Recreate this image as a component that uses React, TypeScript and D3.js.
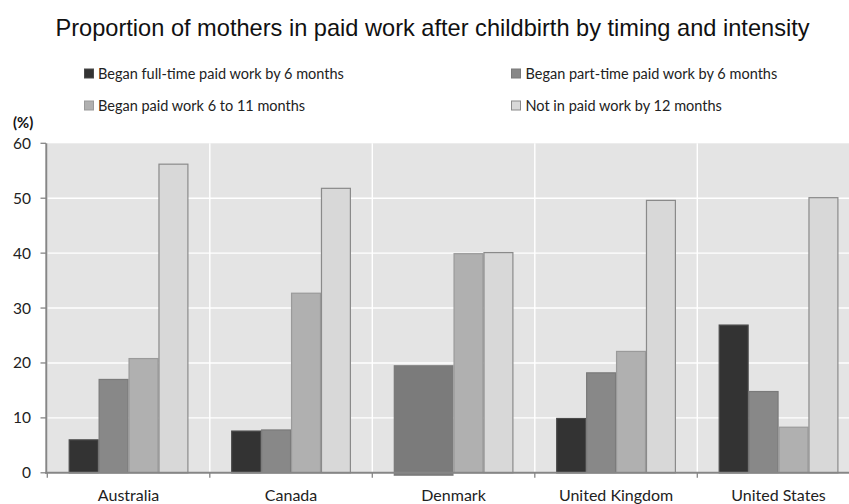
import React from "react";
import * as d3 from "d3";

const title = "Proportion of mothers in paid work after childbirth by timing and intensity";
const categories = ["Australia", "Canada", "Denmark", "United Kingdom", "United States"];
const seriesNames = [
  "Began full-time paid work by 6 months",
  "Began part-time paid work by 6 months",
  "Began paid work 6 to 11 months",
  "Not in paid work by 12 months",
];
const fullTime: (number | null)[] = [6.0, 7.6, null, 9.9, 26.9];
const partTime: number[] = [17.0, 7.8, 19.6, 18.2, 14.8];
const paidWork6to11: number[] = [20.8, 32.7, 39.9, 22.1, 8.3];
const notInWork: number[] = [56.2, 51.8, 40.1, 49.6, 50.1];
// Denmark reports full-time and part-time as one combined figure
const mergedFirstTwo: boolean[] = [false, false, true, false, false];
const yTicks = [0, 10, 20, 30, 40, 50, 60];

const fills = ["#333333", "#888888", "#b0b0b0", "#d8d8d8"];
const strokes = ["#4a4a4a", "#7a7a7a", "#9a9a9a", "#8a8a8a"];
const FONT = "Lato, 'Open Sans', sans-serif";

export default function App() {
  const W = 849;
  const H = 504;
  const x0 = 47.3;
  const catW = 162.5;
  const x = d3
    .scaleBand<string>()
    .domain(categories)
    .range([x0, x0 + catW * categories.length])
    .padding(0);
  const inner = d3
    .scaleBand<number>()
    .domain([0, 1, 2, 3])
    .range([21.4, catW - 21.4])
    .padding(0);
  const y = d3.scaleLinear().domain([0, 60]).range([472.8, 143.3]);

  const series = [fullTime, partTime, paidWork6to11, notInWork];
  const bars: React.ReactNode[] = [];
  categories.forEach((c, ci) => {
    const cx = x(c)!;
    series.forEach((vals, si) => {
      const v = vals[ci];
      if (v == null) return;
      if (mergedFirstTwo[ci] && si === 1) {
        const bx = cx + inner(0)!;
        const bw = inner.bandwidth() * 2;
        bars.push(
          <rect
            key={`${ci}-${si}`}
            x={bx}
            y={y(v)}
            width={bw}
            height={y(0) - y(v) + 3}
            fill="#7b7b7b"
          />
        );
        return;
      }
      const bx = cx + inner(si)!;
      bars.push(
        <rect
          key={`${ci}-${si}`}
          x={bx + 0.5}
          y={y(v)}
          width={inner.bandwidth() - 1}
          height={y(0) - y(v)}
          fill={fills[si]}
          stroke={strokes[si]}
          strokeWidth={1.2}
        />
      );
    });
  });

  const legendPos = [
    { x: 84.5, y: 69, tx: 98 },
    { x: 511.5, y: 69, tx: 525.5 },
    { x: 84.5, y: 101, tx: 98 },
    { x: 511.5, y: 101, tx: 525.5 },
  ];

  const boundaries = d3.range(categories.length + 1).map((i) => x0 + i * catW);

  return (
    <svg
      width={W}
      height={H}
      style={{ position: "absolute", left: 0, top: 0, background: "#fff" }}
    >
      <text
        x={432.5}
        y={36}
        textAnchor="middle"
        fontFamily="'Liberation Sans', Arial, sans-serif"
        fontSize={23.6}
        fill="#111"
      >
        {title}
      </text>

      {seriesNames.map((n, i) => (
        <g key={n}>
          <rect
            x={legendPos[i].x}
            y={legendPos[i].y}
            width={9}
            height={9}
            fill={fills[i]}
            stroke={strokes[i]}
            strokeWidth={1}
          />
          <text
            x={legendPos[i].tx}
            y={legendPos[i].y + 9.5}
            fontFamily={FONT}
            fontSize={14.5}
            fill="#222"
          >
            {n}
          </text>
        </g>
      ))}

      <text x={13} y={127.5} fontFamily={FONT} fontSize={14.8} fontWeight="bold" fill="#111">
        (%)
      </text>

      <rect x={x0} y={y(60)} width={W - x0} height={y(0) - y(60)} fill="#e4e4e4" />
      {yTicks
        .filter((t) => t > 0 && t < 60)
        .map((t) => (
          <line key={t} x1={x0} x2={W} y1={y(t)} y2={y(t)} stroke="#ffffff" strokeWidth={1.4} />
        ))}
      {boundaries.slice(1).map((b, i) => (
        <line key={i} x1={b} x2={b} y1={y(60)} y2={y(0)} stroke="#ffffff" strokeWidth={1.4} />
      ))}

      {bars}

      <line x1={46.3} x2={46.3} y1={y(60)} y2={y(0) + 1} stroke="#868686" strokeWidth={2} />
      {yTicks.map((t) => (
        <g key={t}>
          <line x1={40.5} x2={46} y1={y(t)} y2={y(t)} stroke="#868686" strokeWidth={1.3} />
          <text
            x={31}
            y={y(t) + 5.5}
            textAnchor="end"
            fontFamily={FONT}
            fontSize={15.5}
            fill="#222"
          >
            {t}
          </text>
        </g>
      ))}
      <line x1={45.3} x2={W} y1={y(0)} y2={y(0)} stroke="#868686" strokeWidth={2} />
      {boundaries.map((b, i) => (
        <line key={i} x1={b} x2={b} y1={y(0)} y2={y(0) + 5} stroke="#868686" strokeWidth={1.3} />
      ))}
      {categories.map((c) => (
        <text
          key={c}
          x={x(c)! + x.bandwidth() / 2}
          y={501}
          textAnchor="middle"
          fontFamily={FONT}
          fontSize={16}
          fill="#222"
        >
          {c}
        </text>
      ))}
    </svg>
  );
}
